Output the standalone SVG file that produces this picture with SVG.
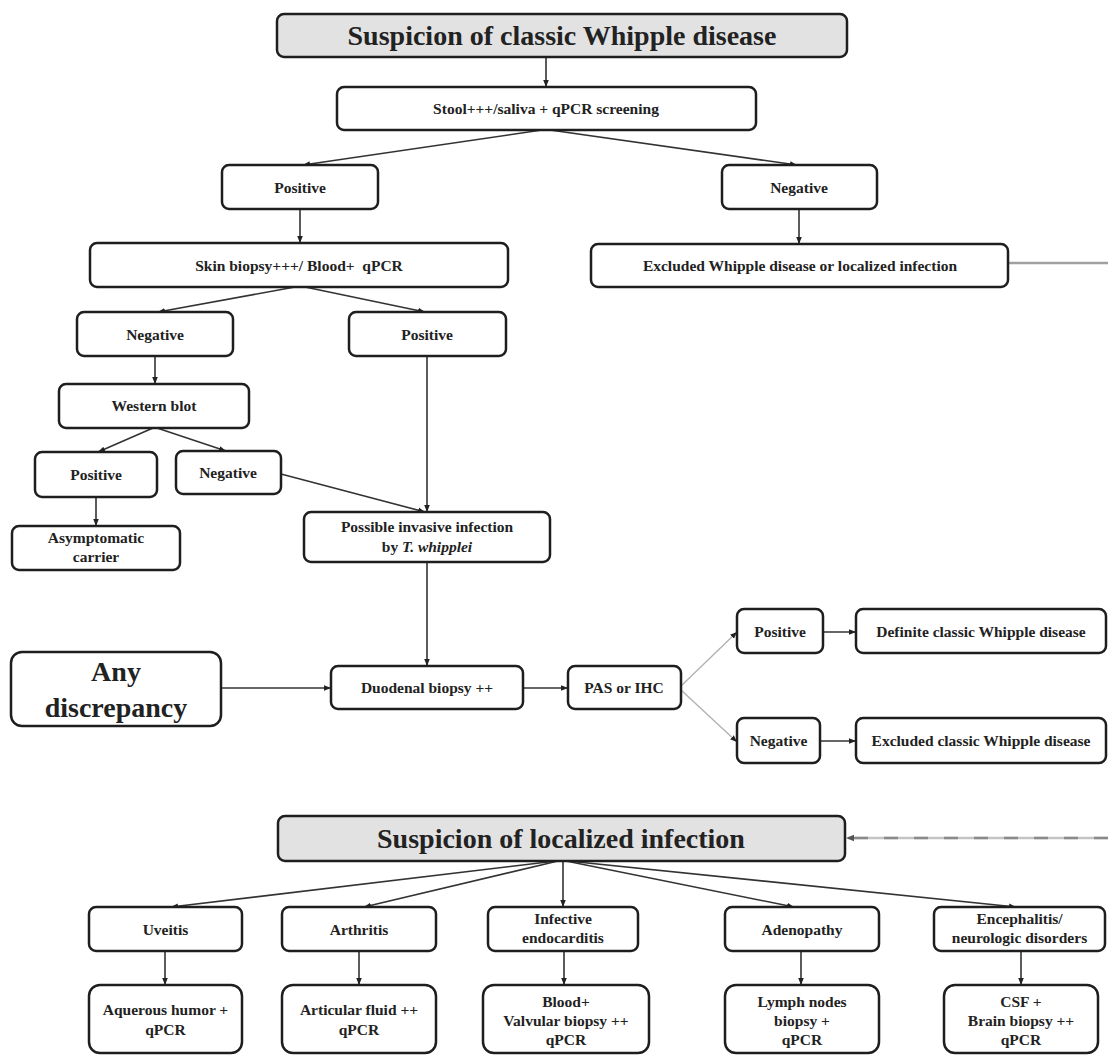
<svg xmlns="http://www.w3.org/2000/svg" width="1108" height="1059" viewBox="0 0 1108 1059">
<style>
.box{fill:#fff;stroke:#1e1e1e;stroke-width:2.5}
.ttl{fill:#e2e2e2;stroke:#1e1e1e;stroke-width:2.5}
.t{font-family:"Liberation Serif","Times New Roman",serif;font-weight:bold;font-size:15.5px;fill:#222;text-anchor:middle}
.big{font-size:28px}
.c{stroke:#333;stroke-width:1.6;fill:none}
.lg{stroke:#b0b0b0;stroke-width:1.3;fill:none}
.gr{stroke:#a0a0a0;stroke-width:2.5;fill:none}
</style>
<defs>
<marker id="ah" viewBox="0 0 10 10" refX="10" refY="5" markerWidth="7" markerHeight="7" markerUnits="userSpaceOnUse" orient="auto"><path d="M0,1 L10,5 L0,9 z" fill="#222"/></marker>
<marker id="ahg" viewBox="0 0 10 10" refX="10" refY="5" markerWidth="8" markerHeight="8" markerUnits="userSpaceOnUse" orient="auto"><path d="M0,1 L10,5 L0,9 z" fill="#555"/></marker>
</defs>
<g id="connectors">
<line class="c" x1="546" y1="57" x2="546" y2="87" marker-end="url(#ah)"/>
<line class="c" x1="542" y1="130" x2="303" y2="165" marker-end="url(#ah)"/>
<line class="c" x1="550" y1="130" x2="797" y2="165" marker-end="url(#ah)"/>
<line class="c" x1="300" y1="209" x2="300" y2="243" marker-end="url(#ah)"/>
<line class="c" x1="799" y1="209" x2="799" y2="244" marker-end="url(#ah)"/>
<line class="gr" x1="1008" y1="263" x2="1108" y2="263"/>
<line class="c" x1="295" y1="287" x2="158" y2="312" marker-end="url(#ah)"/>
<line class="c" x1="305" y1="287" x2="425" y2="312" marker-end="url(#ah)"/>
<line class="c" x1="155" y1="356" x2="155" y2="384" marker-end="url(#ah)"/>
<line class="c" x1="427" y1="356" x2="427" y2="512" marker-end="url(#ah)"/>
<line class="c" x1="153" y1="428" x2="98" y2="452" marker-end="url(#ah)"/>
<line class="c" x1="157" y1="428" x2="226" y2="451" marker-end="url(#ah)"/>
<line class="c" x1="96" y1="497" x2="96" y2="526" marker-end="url(#ah)"/>
<line class="c" x1="281" y1="474" x2="425" y2="512" marker-end="url(#ah)"/>
<line class="c" x1="427" y1="562" x2="427" y2="666" marker-end="url(#ah)"/>
<line class="c" x1="221" y1="688" x2="331" y2="688" marker-end="url(#ah)"/>
<line class="c" x1="523" y1="688" x2="568" y2="688" marker-end="url(#ah)"/>
<line class="lg" x1="681" y1="686" x2="737" y2="632" marker-end="url(#ah)"/>
<line class="lg" x1="681" y1="690" x2="737" y2="742" marker-end="url(#ah)"/>
<line class="c" x1="823" y1="632" x2="856" y2="632" marker-end="url(#ah)"/>
<line class="c" x1="820" y1="741" x2="856" y2="741" marker-end="url(#ah)"/>
<line stroke="#c4c4c4" stroke-width="2.5" x1="1108" y1="838" x2="848" y2="838"/>
<line stroke="#8a8a8a" stroke-width="2.5" stroke-dasharray="14 16" x1="1108" y1="838" x2="846" y2="838" marker-end="url(#ahg)"/>
<line class="c" x1="556" y1="861" x2="171" y2="907" marker-end="url(#ah)"/>
<line class="c" x1="558" y1="861" x2="364" y2="907" marker-end="url(#ah)"/>
<line class="c" x1="563" y1="861" x2="563" y2="907" marker-end="url(#ah)"/>
<line class="c" x1="566" y1="861" x2="794" y2="907" marker-end="url(#ah)"/>
<line class="c" x1="568" y1="861" x2="1016" y2="907" marker-end="url(#ah)"/>
<line class="c" x1="165" y1="951" x2="165" y2="985" marker-end="url(#ah)"/>
<line class="c" x1="359" y1="951" x2="359" y2="985" marker-end="url(#ah)"/>
<line class="c" x1="564" y1="951" x2="564" y2="985" marker-end="url(#ah)"/>
<line class="c" x1="801" y1="951" x2="801" y2="985" marker-end="url(#ah)"/>
<line class="c" x1="1021" y1="951" x2="1021" y2="985" marker-end="url(#ah)"/>
</g>
<g id="n-suspicion-classic"><rect class="ttl" x="277" y="14" width="570" height="43" rx="7"/><text class="t big" x="562" y="45">Suspicion of classic Whipple disease</text></g>
<g id="n-stool"><rect class="box" x="337" y="87" width="419" height="43" rx="7"/><text class="t" x="546" y="114">Stool+++/saliva + qPCR screening</text></g>
<g id="n-pos1"><rect class="box" x="222" y="165" width="156" height="44" rx="7"/><text class="t" x="300" y="192.5">Positive</text></g>
<g id="n-neg1"><rect class="box" x="722" y="165" width="155" height="44" rx="7"/><text class="t" x="799" y="192.5">Negative</text></g>
<g id="n-skin"><rect class="box" x="90" y="243" width="418" height="44" rx="7"/><text class="t" x="299" y="270.5" style="white-space:pre">Skin biopsy+++/ Blood+  qPCR</text></g>
<g id="n-excluded"><rect class="box" x="591" y="244" width="417" height="43" rx="7"/><text class="t" x="800" y="270.5">Excluded Whipple disease or localized infection</text></g>
<g id="n-neg2"><rect class="box" x="77" y="312" width="156" height="44" rx="7"/><text class="t" x="155" y="339.5">Negative</text></g>
<g id="n-pos2"><rect class="box" x="349" y="312" width="157" height="44" rx="7"/><text class="t" x="427" y="339.5">Positive</text></g>
<g id="n-western"><rect class="box" x="59" y="384" width="190" height="44" rx="7"/><text class="t" x="154" y="411">Western blot</text></g>
<g id="n-pos3"><rect class="box" x="35" y="452" width="122" height="45" rx="7"/><text class="t" x="96" y="480">Positive</text></g>
<g id="n-neg3"><rect class="box" x="176" y="451" width="105" height="43" rx="7"/><text class="t" x="228" y="478">Negative</text></g>
<g id="n-asymp"><rect class="box" x="12" y="526" width="168" height="44" rx="7"/><text class="t" x="96" y="543">Asymptomatic</text><text class="t" x="96" y="562">carrier</text></g>
<g id="n-possible"><rect class="box" x="304" y="512" width="246" height="50" rx="7"/><text class="t" x="427" y="532">Possible invasive infection</text><text class="t" x="427" y="552">by <tspan font-style="italic">T. whipplei</tspan></text></g>
<g id="n-any"><rect class="box" x="11" y="652" width="210" height="74" rx="11"/><text class="t big" x="116" y="681">Any</text><text class="t big" x="116" y="717">discrepancy</text></g>
<g id="n-duodenal"><rect class="box" x="331" y="666" width="192" height="43" rx="7"/><text class="t" x="427" y="693">Duodenal biopsy ++</text></g>
<g id="n-pas"><rect class="box" x="568" y="666" width="113" height="43" rx="7"/><text class="t" x="624" y="693">PAS or IHC</text></g>
<g id="n-pos4"><rect class="box" x="737" y="609" width="86" height="44" rx="7"/><text class="t" x="780" y="636.5">Positive</text></g>
<g id="n-definite"><rect class="box" x="856" y="609" width="250" height="44" rx="7"/><text class="t" x="981" y="636.5">Definite classic Whipple disease</text></g>
<g id="n-neg4"><rect class="box" x="737" y="718" width="83" height="45" rx="7"/><text class="t" x="778.5" y="746">Negative</text></g>
<g id="n-excluded-classic"><rect class="box" x="856" y="718" width="250" height="45" rx="7"/><text class="t" x="981" y="746">Excluded classic Whipple disease</text></g>
<g id="n-suspicion-localized"><rect class="ttl" x="278" y="816" width="567" height="45" rx="7"/><text class="t big" x="561" y="848">Suspicion of localized infection</text></g>
<g id="n-uveitis"><rect class="box" x="89" y="907" width="153" height="44" rx="7"/><text class="t" x="165.5" y="934.5">Uveitis</text></g>
<g id="n-arthritis"><rect class="box" x="282" y="907" width="154" height="44" rx="7"/><text class="t" x="359" y="934.5">Arthritis</text></g>
<g id="n-infective"><rect class="box" x="488" y="907" width="150" height="44" rx="7"/><text class="t" x="563" y="924">Infective</text><text class="t" x="563" y="943">endocarditis</text></g>
<g id="n-adenopathy"><rect class="box" x="725" y="907" width="154" height="44" rx="7"/><text class="t" x="802" y="934.5">Adenopathy</text></g>
<g id="n-encephalitis"><rect class="box" x="934" y="907" width="171" height="44" rx="7"/><text class="t" x="1019.5" y="924">Encephalitis/</text><text class="t" x="1019.5" y="943">neurologic disorders</text></g>
<g id="n-aqueous"><rect class="box" x="89" y="985" width="153" height="68" rx="11"/><text class="t" x="165.5" y="1015">Aquerous humor +</text><text class="t" x="165.5" y="1035">qPCR</text></g>
<g id="n-articular"><rect class="box" x="282" y="985" width="154" height="68" rx="11"/><text class="t" x="359" y="1015">Articular fluid ++</text><text class="t" x="359" y="1035">qPCR</text></g>
<g id="n-blood"><rect class="box" x="483" y="985" width="166" height="68" rx="11"/><text class="t" x="566" y="1007">Blood+</text><text class="t" x="566" y="1026">Valvular biopsy ++</text><text class="t" x="566" y="1045">qPCR</text></g>
<g id="n-lymph"><rect class="box" x="725" y="985" width="154" height="68" rx="11"/><text class="t" x="802" y="1007">Lymph nodes</text><text class="t" x="802" y="1026">biopsy +</text><text class="t" x="802" y="1045">qPCR</text></g>
<g id="n-csf"><rect class="box" x="944" y="985" width="154" height="68" rx="11"/><text class="t" x="1021" y="1007">CSF +</text><text class="t" x="1021" y="1026">Brain biopsy ++</text><text class="t" x="1021" y="1045">qPCR</text></g>
</svg>
